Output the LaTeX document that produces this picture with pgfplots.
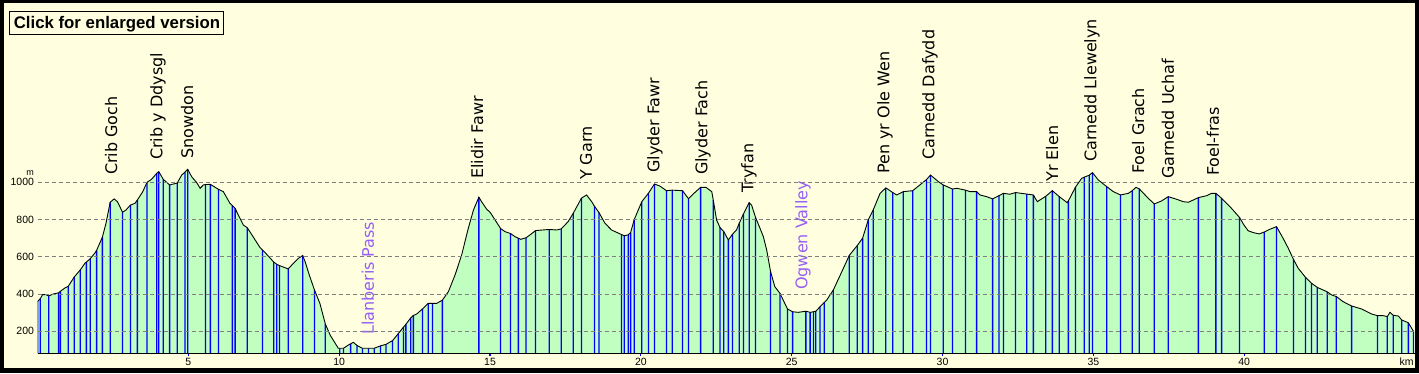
\documentclass[border=0pt]{standalone}
\usepackage{fontspec}
\setmainfont{DejaVu Sans}
\newfontfamily\libsans{Liberation Sans}
\usepackage{pgfplots}
\pgfplotsset{compat=1.18}
\usepackage{pgfplotstable}

\definecolor{bgyellow}{RGB}{255,255,224}
\definecolor{fillgreen}{RGB}{192,255,192}
\definecolor{labpurple}{RGB}{150,95,245}
\definecolor{stemblue}{RGB}{0,0,255}

\pgfplotstableread{
km m s
0.00 360 0
0.01 362 1
0.09 375 1
0.17 397 0
0.28 397 0
0.37 390 1
0.52 400 0
0.70 407 1
0.76 415 1
0.91 433 0
1.02 442 1
1.22 492 1
1.42 530 1
1.57 565 0
1.62 572 1
1.75 590 1
1.91 622 0
1.96 635 1
2.15 705 1
2.27 780 0
2.41 893 1
2.54 911 0
2.65 896 0
2.82 839 1
2.93 851 0
3.08 878 1
3.23 887 0
3.31 905 1
3.49 950 0
3.63 1000 1
3.78 1016 0
3.95 1048 1
4.02 1057 1
4.17 1016 1
4.38 986 1
4.63 996 1
4.78 1039 0
4.89 1055 1
4.98 1070 1
5.11 1030 0
5.28 998 0
5.39 968 0
5.50 986 0
5.57 988 1
5.73 989 1
6.00 962 1
6.16 950 0
6.38 887 0
6.46 875 1
6.55 860 1
6.82 771 0
6.95 757 1
7.04 735 0
7.37 651 0
7.46 636 1
7.60 613 0
7.83 572 1
7.93 560 1
8.02 553 1
8.31 535 1
8.48 565 0
8.65 592 0
8.79 607 1
8.87 574 0
9.01 502 0
9.18 422 1
9.36 350 0
9.54 240 1
9.70 180 0
9.97 109 0
10.02 109 1
10.14 109 1
10.30 126 0
10.38 133 1
10.47 141 0
10.59 124 1
10.77 109 1
10.97 109 1
11.16 109 1
11.37 122 1
11.55 130 1
11.77 150 1
11.96 188 1
12.13 222 1
12.21 237 1
12.37 272 1
12.46 285 1
12.57 293 0
12.76 320 1
12.95 350 1
13.09 350 1
13.23 350 0
13.42 367 1
13.62 413 0
13.84 502 0
14.06 610 0
14.28 753 0
14.45 851 0
14.63 920 1
14.72 896 0
14.89 855 0
15.00 840 0
15.16 800 0
15.35 752 1
15.50 735 0
15.68 725 1
15.83 708 0
15.94 700 1
16.02 694 0
16.19 702 1
16.32 717 0
16.51 741 1
16.96 747 1
17.21 744 0
17.36 750 1
17.59 789 0
17.76 834 1
18.03 915 1
18.20 932 0
18.37 896 0
18.46 872 1
18.61 838 1
18.81 780 0
19.03 744 0
19.31 723 0
19.36 720 1
19.45 713 1
19.58 718 1
19.66 730 1
19.78 800 1
20.03 896 1
20.25 941 1
20.45 991 1
20.63 980 0
20.85 955 1
21.04 958 1
21.38 955 1
21.58 912 1
21.76 941 0
21.98 973 1
22.16 973 0
22.35 950 0
22.40 905 1
22.51 798 0
22.62 758 1
22.75 735 1
22.90 690 1
23.04 722 1
23.17 744 0
23.26 780 1
23.40 830 1
23.59 891 1
23.67 878 0
23.80 812 1
23.95 753 0
24.06 708 0
24.17 637 0
24.30 520 1
24.44 440 0
24.61 404 1
24.86 320 1
25.03 305 1
25.22 302 0
25.47 308 1
25.61 302 1
25.72 305 1
25.80 308 1
25.94 332 1
26.08 355 1
26.16 368 0
26.38 422 1
26.66 520 0
26.91 608 1
27.17 660 1
27.35 700 1
27.54 800 1
27.70 851 1
27.93 941 0
28.12 970 1
28.35 945 1
28.48 932 0
28.70 950 1
29.01 955 1
29.25 986 0
29.47 1015 1
29.60 1039 1
29.86 1004 0
30.02 986 1
30.33 964 1
30.47 968 0
30.76 958 1
30.91 950 0
31.13 950 1
31.24 932 0
31.46 923 0
31.66 911 1
31.87 928 1
32.02 941 1
32.23 936 0
32.42 945 1
32.79 937 1
33.01 932 1
33.14 896 0
33.42 925 1
33.64 955 1
33.87 923 1
34.13 891 0
34.17 900 1
34.41 975 1
34.61 1021 0
34.70 1028 1
34.86 1038 1
34.97 1052 1
35.16 1013 0
35.44 977 1
35.66 950 0
35.90 932 1
36.16 941 0
36.29 955 1
36.41 973 0
36.52 965 1
36.82 914 0
37.02 884 1
37.26 900 0
37.48 923 1
37.76 909 0
37.98 896 0
38.15 893 0
38.31 905 0
38.48 918 1
38.75 928 0
38.92 941 0
39.06 941 1
39.25 914 1
39.53 869 0
39.84 812 1
39.99 771 0
40.13 740 0
40.30 730 0
40.50 723 0
40.66 733 1
40.85 748 0
41.07 762 1
41.29 699 0
41.46 646 0
41.63 587 1
41.79 538 0
42.03 490 1
42.23 458 1
42.42 436 1
42.75 412 1
42.90 395 0
43.05 387 1
43.28 359 0
43.56 336 1
43.89 320 0
44.22 293 0
44.42 284 1
44.61 284 0
44.74 279 1
44.83 302 0
44.94 286 1
45.11 282 0
45.22 261 1
45.44 246 1
45.61 200 1
}\profile

\begin{document}
\begin{tikzpicture}
\useasboundingbox (0pt,0pt) rectangle (1419pt,373pt);
\fill[black] (0pt,0pt) rectangle (1419pt,373pt);
\fill[bgyellow] (3.5pt,5.3pt) rectangle (1415pt,369.5pt);
\draw[black, line width=1pt, fill=bgyellow] (9.3pt,338.7pt) rectangle (223pt,361.3pt);
\node[anchor=base, inner sep=0pt, font=\libsans\bfseries\fontsize{16.8}{20}\selectfont] at (117pt,344pt) {Click for enlarged version};
\begin{axis}[
  at={(37.5pt,19.7pt)}, anchor=south west,
  scale only axis, width=1377.5pt, height=343.3pt,
  xmin=0, xmax=45.66, ymin=82, ymax=1925.2,
  axis x line*=bottom, axis y line*=left,
  x axis line style={-, black, line width=1pt},
  y axis line style={draw=none},
  xtick={5,10,...,40},
  ytick={200,400,600,800,1000},
  tick align=outside,
  major tick length=3pt,
  xtick style={stemblue, line width=1.2pt},
  ytick style={draw=none},
  ymajorgrids,
  major grid style={gray, dash pattern=on 4pt off 3pt, line width=0.8pt},
  tick label style={font=\libsans\fontsize{10.5}{12}\selectfont},
  /pgf/number format/assume math mode=true,
  /pgf/number format/1000 sep={},
  yticklabel style={xshift=3pt},
  xticklabel style={yshift=1.3pt},
  axis on top,
  clip mode=individual,
]
\addplot[draw=none, fill=fillgreen] table[x=km, y=m]{\profile} \closedcycle;
\addplot[ybar, bar width=1.3pt, fill=stemblue, draw=none, restrict y to domain=1:5000] table[x=km, y expr=\thisrow{m}*\thisrow{s}]{\profile};
\addplot[black, line width=0.9pt] table[x=km, y=m]{\profile};

\begin{scope}[every node/.style={rotate=90, anchor=west, inner sep=0pt, font=\fontsize{16}{19}\selectfont}]
\node at (axis cs:2.44,1039) {Crib Goch};
\node at (axis cs:3.99,1120) {Crib y Ddysgl};
\node at (axis cs:4.96,1125) {Snowdon};
\node at (axis cs:14.57,1018) {Elidir Fawr};
\node at (axis cs:18.18,1012) {Y Garn};
\node at (axis cs:20.47,1050) {Glyder Fawr};
\node at (axis cs:22.06,1039) {Glyder Fach};
\node at (axis cs:23.58,943) {Tryfan};
\node at (axis cs:28.09,1045) {Pen yr Ole Wen};
\node at (axis cs:29.58,1120) {Carnedd Dafydd};
\node at (axis cs:33.63,1002) {Yr Elen};
\node at (axis cs:34.95,1109) {Carnedd Llewelyn};
\node at (axis cs:36.48,1045) {Foel Grach};
\node at (axis cs:37.47,1018) {Garnedd Uchaf};
\node at (axis cs:38.96,1034) {Foel-fras};
\node[text=labpurple] at (axis cs:10.95,180) {Llanberis Pass};
\node[text=labpurple] at (axis cs:25.37,422) {Ogwen Valley};
\end{scope}
\end{axis}
\node[inner sep=0pt, font=\libsans\fontsize{9}{10}\selectfont] at (30pt,199.5pt) {m};
\node[inner sep=0pt, font=\libsans\fontsize{10.5}{12}\selectfont] at (1406.5pt,11pt) {km};
\end{tikzpicture}
\end{document}
